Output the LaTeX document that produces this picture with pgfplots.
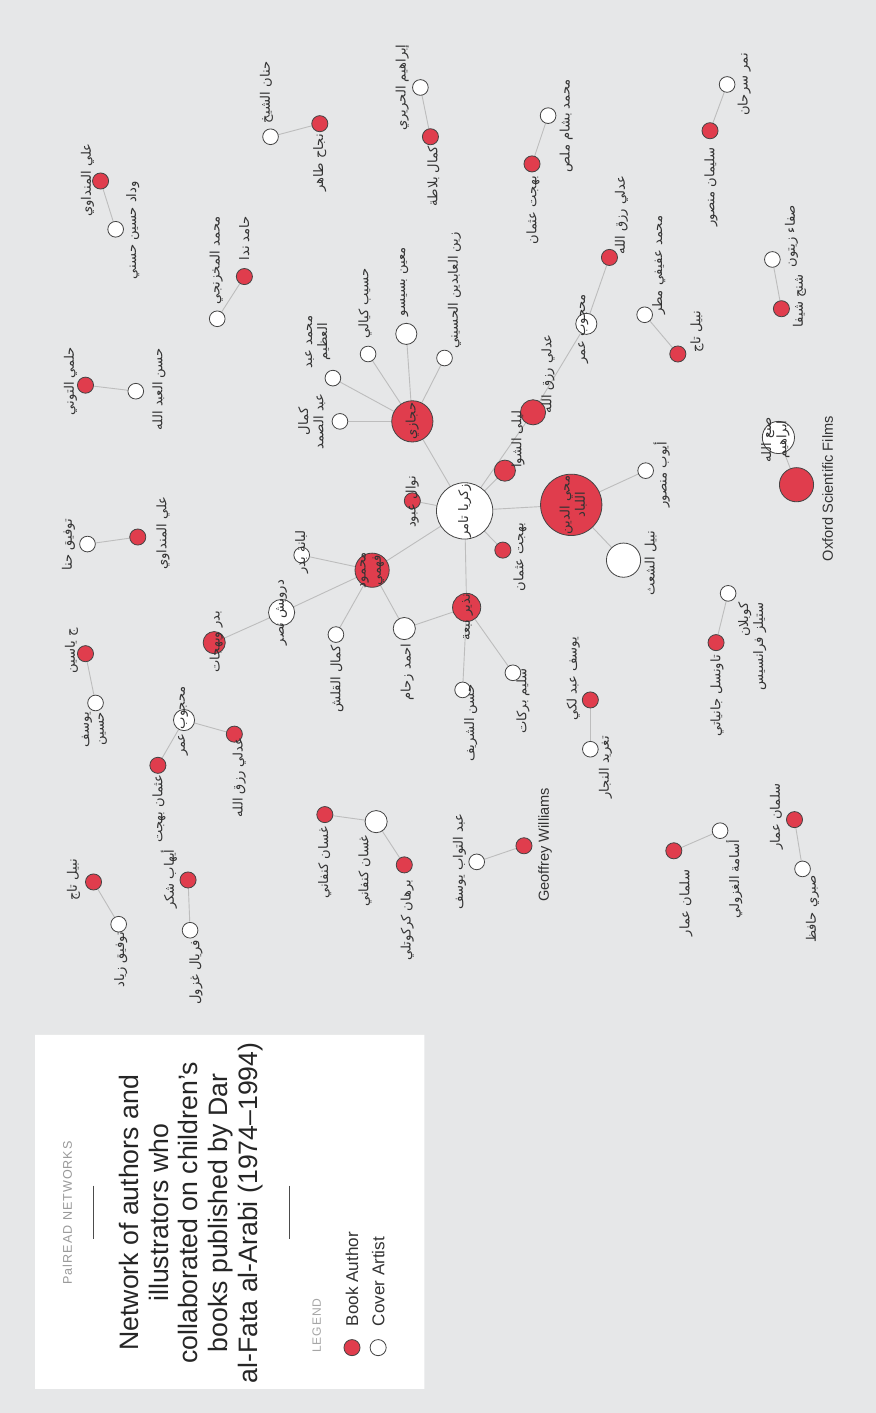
\documentclass[border=0pt]{standalone}
\usepackage{pgfplots}
\pgfplotsset{compat=1.18}
\usepackage{fontspec}
\setmainfont{Liberation Sans}
\newfontfamily\arabicfont[Script=Arabic]{DejaVu Sans}
\TeXXeTstate=1
\definecolor{bg}{HTML}{E6E7E8}
\definecolor{rd}{HTML}{E03D4D}
\definecolor{ed}{HTML}{BDBDBD}
\definecolor{st}{HTML}{444444}
\definecolor{tx}{HTML}{333333}
\tikzset{lbl/.style={rotate=90,font=\arabicfont\fontsize{13}{15}\selectfont,text=tx,inner sep=0pt,align=center}}
\newcommand\E[4]{\addplot[ed,line width=0.9pt] coordinates {(#1,#2) (#3,#4)};}
\newcommand\R[2]{\addplot[only marks,mark=*,mark size=#1,mark options={fill=rd,draw=st,line width=0.8pt}] coordinates {#2};}
\newcommand\W[2]{\addplot[only marks,mark=*,mark size=#1,mark options={fill=white,draw=st,line width=0.8pt}] coordinates {#2};}
\newcommand\Lb[3]{\node[lbl] at (axis cs:#1,#2) {#3};}
\begin{document}
\begin{tikzpicture}
\begin{axis}[width=880pt,height=1413pt,scale only axis,xmin=0,xmax=880,ymin=0,ymax=1413,y dir=reverse,hide axis,clip=false,set layers=standard]
% background
\addplot[fill=bg,draw=none] coordinates {(5,3)(876,3)(876,1408)(5,1408)(5,3)};
\addplot[fill=white,draw=none] coordinates {(40,1032)(427,1032)(427,1384)(40,1384)(40,1032)};
% edges
\E{105}{183}{120}{231}
\E{274}{139}{323}{126}
\E{423}{90}{433}{139}
\E{221}{320}{248}{278}
\E{534}{166}{550}{118}
\E{711}{133}{728}{87}
\E{611}{259}{588}{325}
\E{588}{325}{535}{413}
\E{646}{316}{679}{355}
\E{773}{261}{782}{310}
\E{90}{386}{140}{392}
\E{92}{544}{142}{537}
\E{415}{422}{343}{422}
\E{415}{422}{336}{379}
\E{415}{422}{371}{355}
\E{415}{422}{409}{335}
\E{415}{422}{447}{359}
\E{415}{422}{467}{511}
\E{467}{511}{415}{501}
\E{467}{511}{507}{471}
\E{467}{511}{535}{413}
\E{467}{511}{505}{550}
\E{467}{511}{573}{505}
\E{467}{511}{469}{607}
\E{467}{511}{375}{570}
\E{573}{505}{647}{471}
\E{573}{505}{625}{560}
\E{375}{570}{305}{555}
\E{375}{570}{285}{612}
\E{375}{570}{339}{634}
\E{375}{570}{407}{628}
\E{285}{612}{218}{642}
\E{469}{607}{407}{628}
\E{469}{607}{465}{689}
\E{469}{607}{515}{672}
\E{779}{438}{797}{485}
\E{729}{593}{717}{642}
\E{592}{699}{592}{748}
\E{90}{653}{100}{702}
\E{188}{719}{162}{764}
\E{188}{719}{238}{733}
\E{98}{880}{123}{922}
\E{192}{878}{194}{928}
\E{328}{813}{379}{820}
\E{379}{820}{407}{863}
\E{479}{860}{526}{844}
\E{675}{849}{721}{829}
\E{795}{818}{803}{867}
% red nodes
\R{8}{(105,183)(323,126)(433,139)(248,278)(534,166)(611,259)(679,355)(711,133)(782,310)(90,386)(142,537)(90,653)(415,501)(505,550)(592,699)(717,642)(526,844)(675,849)(795,818)(162,764)(238,733)(98,880)(192,878)(328,813)(407,863)}
\R{10.5}{(507,471)}
\R{11}{(218,642)}
\R{12.5}{(535,413)}
\R{14}{(469,607)}
\R{17}{(375,570)(797,485)}
\R{20.5}{(415,422)}
\R{30.5}{(573,505)}
% white nodes
\W{7.8}{(120,231)(274,139)(423,90)(221,320)(550,118)(646,316)(728,87)(773,261)(140,392)(92,544)(371,355)(447,359)(336,379)(343,422)(305,555)(339,634)(647,471)(729,593)(465,689)(515,672)(592,748)(479,860)(721,829)(803,867)(100,702)(123,922)(194,928)}
\W{10.5}{(409,335)(588,325)(188,719)}
\W{11}{(407,628)(379,820)}
\W{13}{(285,612)}
\W{16}{(779,438)}
\W{17}{(625,560)}
\W{28}{(467,511)}
% legend marks
\R{8}{(355,1343)}
\W{8}{(381,1343)}
\addplot[black!70,line width=0.8pt] coordinates {(98,1182)(98,1235)};
\addplot[black!70,line width=0.8pt] coordinates {(293,1182)(293,1235)};
% labels
\begin{pgfonlayer}{axis foreground}
\Lb{92}{182}{\beginR علي المنداوي\endR}
\Lb{137}{232}{\beginR وداد حسين حسني\endR}
\Lb{270}{95}{\beginR حنان الشيخ\endR}
\Lb{323}{165}{\beginR نجاح طاهر\endR}
\Lb{405}{90}{\beginR إبراهيم الحريري\endR}
\Lb{436}{178}{\beginR كمال بلاطة\endR}
\Lb{220}{262}{\beginR محمد المخزنجي\endR}
\Lb{248}{240}{\beginR حامد ندا\endR}
\Lb{535}{212}{\beginR بهجت عثمان\endR}
\Lb{568}{128}{\beginR محمد بشام ملص\endR}
\Lb{623}{217}{\beginR عدلي رزق الله\endR}
\Lb{585}{330}{\beginR محجوب عمر\endR}
\Lb{660}{267}{\beginR محمد عفيفي مطر\endR}
\Lb{698}{333}{\beginR نبيل تاج\endR}
\Lb{712}{189}{\beginR سليمان منصور\endR}
\Lb{745}{87}{\beginR نمر سرحان\endR}
\Lb{792}{238}{\beginR صفاء زيتون\endR}
\Lb{800}{302}{\beginR شنج شيفا\endR}
\Lb{75}{382}{\beginR حلمي التوني\endR}
\Lb{163}{390}{\beginR حسن العبد الله\endR}
\Lb{73}{545}{\beginR توفيق حنا\endR}
\Lb{167}{533}{\beginR علي المنداوي\endR}
\Lb{368}{305}{\beginR حسيب كيالي\endR}
\Lb{407}{283}{\beginR معين بسيسو\endR}
\Lb{457}{292}{\beginR زين العابدين الحسيني\endR}
\node[lbl] at (axis cs:321,343) {\beginR محمد عبد\endR\\\beginR العظيم\endR};
\node[lbl] at (axis cs:315,422) {\beginR كمال\endR\\\beginR عبد الصمد\endR};
\Lb{415}{422}{\beginR حجازي\endR}
\Lb{415}{502}{\beginR نوال عبود\endR}
\Lb{467}{511}{\beginR زكريا تامر\endR}
\Lb{520}{440}{\beginR ليلى الشوا\endR}
\Lb{550}{375}{\beginR عدلي رزق الله\endR}
\Lb{522}{557}{\beginR بهجت عثمان\endR}
\node[lbl] at (axis cs:575,505) {\beginR محي الدين\endR\\\beginR اللباد\endR};
\Lb{663}{475}{\beginR أيوب منصور\endR}
\Lb{652}{563}{\beginR نبيل الشعث\endR}
\node[lbl] at (axis cs:776,440) {\beginR صنع الله\endR\\\beginR ابراهيم\endR};
\node[rotate=90,font=\fontsize{14.5}{17}\selectfont,text=tx,inner sep=0pt] at (axis cs:828,489) {Oxford Scientific Films};
\node[lbl,anchor=east,align=right] at (axis cs:753,602) {\beginR كوبلان\endR\\\beginR ستيلز فرانسيس\endR};
\Lb{718}{695}{\beginR تاونسل جانياتي\endR}
\Lb{470}{617}{\beginR نذير نبعة\endR}
\node[lbl] at (axis cs:375,570) {\beginR محمود\endR\\\beginR فهمي\endR};
\Lb{305}{552}{\beginR لبانة بدر\endR}
\Lb{285}{612}{\beginR درويش نصر\endR}
\Lb{220}{641}{\beginR بدر وبهجات\endR}
\Lb{340}{678}{\beginR كمال القلش\endR}
\Lb{410}{671}{\beginR احمد زحام\endR}
\Lb{473}{722}{\beginR حسن الشريف\endR}
\Lb{525}{700}{\beginR سليم بركات\endR}
\Lb{575}{678}{\beginR يوسف عبد لكي\endR}
\Lb{607}{766}{\beginR تغريد النجار\endR}
\Lb{76}{650}{\beginR ج ياسين\endR}
\node[lbl,anchor=east,align=right] at (axis cs:99,711) {\beginR يوسف\endR\\\beginR حسين\endR};
\Lb{187}{720}{\beginR محجوب عمر\endR}
\Lb{163}{807}{\beginR عثمان بهجت\endR}
\Lb{243}{776}{\beginR عدلي رزق الله\endR}
\Lb{78}{878}{\beginR نبيل تاج\endR}
\Lb{125}{957}{\beginR توفيق زياد\endR}
\Lb{173}{877}{\beginR أيهاب شكر\endR}
\Lb{200}{970}{\beginR فريال غزول\endR}
\Lb{328}{861}{\beginR غسان كنفاني\endR}
\Lb{368}{869}{\beginR غسان كنفاني\endR}
\Lb{410}{918}{\beginR برهان كركوتلي\endR}
\Lb{462}{860}{\beginR عبد التواب يوسف\endR}
\node[rotate=90,font=\fontsize{14.5}{17}\selectfont,text=tx,inner sep=0pt] at (axis cs:547,843) {Geoffrey Williams};
\Lb{687}{901}{\beginR سلمان عمار\endR}
\Lb{735}{877}{\beginR أسامة الغزولي\endR}
\Lb{777}{815}{\beginR سلمان عمار\endR}
\Lb{813}{907}{\beginR صبري حافظ\endR}
% card
\node[rotate=90,font=\addfontfeatures{LetterSpace=8}\fontsize{12.5}{15}\selectfont,text=black!40,inner sep=0pt] at (axis cs:72,1209) {PalREAD NETWORKS};
\node[rotate=90,align=center,font=\fontsize{26.5}{29.5}\selectfont,text=black!85,inner sep=0pt] at (axis cs:195,1209) {Network of authors and\\illustrators who\\collaborated on children's\\books published by Dar\\al-Fata al-Arabi (1974--1994)};
\node[rotate=90,font=\addfontfeatures{LetterSpace=8}\fontsize{12}{14}\selectfont,text=black!35,inner sep=0pt] at (axis cs:320,1321) {LEGEND};
\node[rotate=90,anchor=west,font=\fontsize{17}{20}\selectfont,text=tx,inner sep=0pt] at (axis cs:355,1322) {Book Author};
\node[rotate=90,anchor=west,font=\fontsize{17}{20}\selectfont,text=tx,inner sep=0pt] at (axis cs:381,1322) {Cover Artist};
\end{pgfonlayer}
\end{axis}
\end{tikzpicture}
\end{document}
